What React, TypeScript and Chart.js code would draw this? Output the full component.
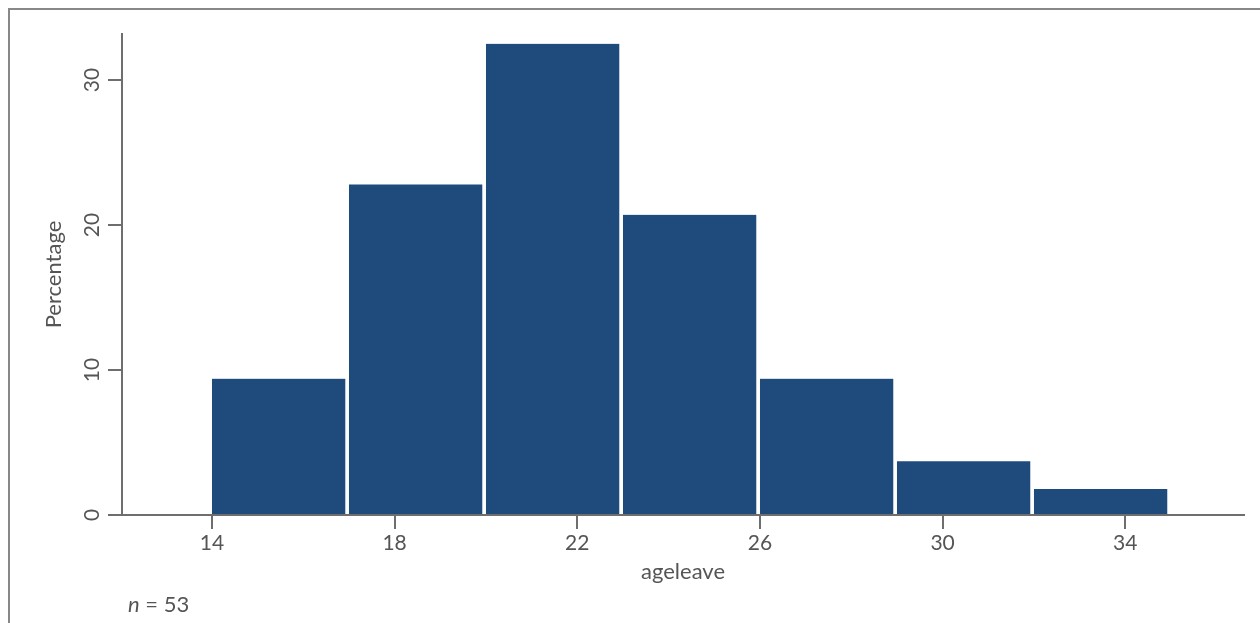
import React, { useEffect, useRef } from "react";
import { Chart, registerables } from "chart.js";

Chart.register(...registerables);

// Histogram bins (width 3, starting at 14) and their percentages
const binCenters = [15.5, 18.5, 21.5, 24.5, 27.5, 30.5, 33.5];
const percentages = [9.4, 22.8, 32.5, 20.7, 9.4, 3.7, 1.8];
const xTickValues = [14, 18, 22, 26, 30, 34];
const yTickValues = [0, 10, 20, 30];
const xTitle = "ageleave";
const yTitle = "Percentage";
const noteCount = 53;

const TEXT = "#555555";
const AXIS = "#6e6e6e";
const BAR = "#1f4a7c";
const FONT = "Lato, 'Open Sans', sans-serif";

export default function App() {
  const ref = useRef<HTMLCanvasElement | null>(null);

  useEffect(() => {
    const canvas = ref.current;
    if (!canvas) return;

    const textPlugin = {
      id: "customTexts",
      afterDraw(chart: any) {
        const ctx = chart.ctx as CanvasRenderingContext2D;
        const yScale = chart.scales.y;
        const area = chart.chartArea;
        ctx.save();
        ctx.fillStyle = TEXT;
        ctx.textAlign = "center";
        ctx.textBaseline = "middle";
        ctx.font = `21px ${FONT}`;
        yTickValues.forEach((v) => {
          const py = yScale.getPixelForValue(v);
          ctx.save();
          ctx.translate(area.left - 30, py);
          ctx.rotate(-Math.PI / 2);
          ctx.fillText(String(v), 0, 0);
          ctx.restore();
        });
        ctx.font = `22px ${FONT}`;
        ctx.save();
        ctx.translate(44, (area.top + area.bottom) / 2);
        ctx.rotate(-Math.PI / 2);
        ctx.fillText(yTitle, 0, 0);
        ctx.restore();
        ctx.fillText(xTitle, (area.left + area.right) / 2, 562);
        ctx.textAlign = "left";
        ctx.font = `italic 22px ${FONT}`;
        const nx = 118;
        ctx.fillText("n", nx, 595);
        const w = ctx.measureText("n").width;
        ctx.font = `22px ${FONT}`;
        ctx.fillText(` = ${noteCount}`, nx + w, 595);
        ctx.restore();
      },
    };

    const chart = new Chart(canvas, {
      type: "bar",
      data: {
        datasets: [
          {
            data: binCenters.map((x, i) => ({ x, y: percentages[i] })),
            backgroundColor: BAR,
            borderColor: "#ffffff",
            borderWidth: { left: 0, top: 0, bottom: 0, right: 4 },
            borderSkipped: false,
            categoryPercentage: 1,
            barPercentage: 1,
          } as any,
        ],
      },
      options: {
        responsive: false,
        animation: false,
        layout: { padding: { left: 0, top: 24, right: 8, bottom: 0 } },
        plugins: {
          legend: { display: false },
          tooltip: { enabled: false },
        },
        scales: {
          x: {
            type: "linear",
            min: 12.03,
            max: 36.6,
            offset: false,
            afterBuildTicks: (s: any) => {
              s.ticks = xTickValues.map((v) => ({ value: v }));
            },
            afterFit: (s: any) => {
              s.height = 100;
            },
            grid: {
              display: true,
              offset: false,
              drawOnChartArea: false,
              drawTicks: true,
              tickLength: 14,
              color: AXIS,
              lineWidth: 2,
            },
            border: { display: true, color: AXIS, width: 2 },
            ticks: {
              color: TEXT,
              font: { family: FONT, size: 21 },
              padding: 2,
              maxRotation: 0,
              minRotation: 0,
            },
          },
          y: {
            type: "linear",
            min: 0,
            max: 33.17,
            afterBuildTicks: (s: any) => {
              s.ticks = yTickValues.map((v) => ({ value: v }));
            },
            afterFit: (s: any) => {
              s.width = 112;
            },
            grid: {
              display: true,
              drawOnChartArea: false,
              drawTicks: true,
              tickLength: 14,
              color: AXIS,
              lineWidth: 2,
            },
            border: { display: true, color: AXIS, width: 2 },
            ticks: { display: false },
          },
        },
      },
      plugins: [textPlugin],
    });

    return () => chart.destroy();
  }, []);

  return (
    <div
      style={{
        position: "fixed",
        left: 8,
        top: 8,
        width: 1252,
        height: 615,
        boxSizing: "border-box",
        borderLeft: "2px solid #8a8886",
        borderTop: "2px solid #8a8886",
        background: "#ffffff",
        overflow: "hidden",
      }}
    >
      <canvas ref={ref} width={1242} height={605} style={{ display: "block" }} />
    </div>
  );
}
